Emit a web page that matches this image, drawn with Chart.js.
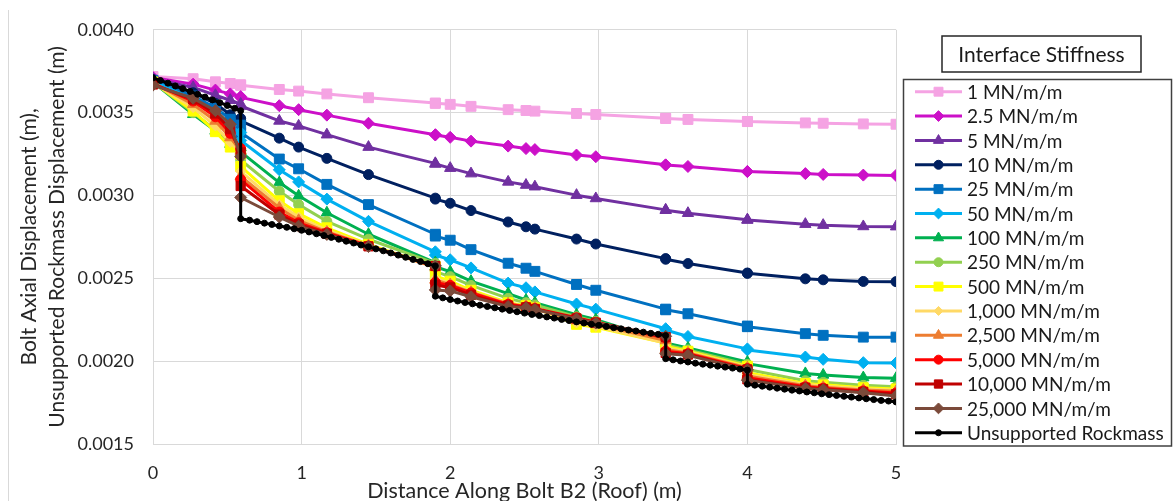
<!DOCTYPE html>
<html><head><meta charset="utf-8">
<script src="https://cdn.jsdelivr.net/npm/chart.js@4.4.1/dist/chart.umd.min.js"></script>
<style>html,body{margin:0;padding:0;background:#fff;}#wrap{width:1175px;height:501px;position:relative;}</style>
</head><body><div id="wrap"><canvas id="c"></canvas></div>
<script>
const xNodes = [0, 0.27, 0.42, 0.52, 0.59, 0.59, 0.85, 0.98, 1.17, 1.45, 1.9, 1.9, 2.0, 2.14, 2.39, 2.51, 2.57, 2.85, 2.98, 3.45, 3.45, 3.6, 4.0, 4.0, 4.39, 4.51, 4.78, 5.0];
const seriesNames = ['1 MN/m/m','2.5 MN/m/m','5 MN/m/m','10 MN/m/m','25 MN/m/m','50 MN/m/m','100 MN/m/m','250 MN/m/m','500 MN/m/m','1,000 MN/m/m','2,500 MN/m/m','5,000 MN/m/m','10,000 MN/m/m','25,000 MN/m/m','Unsupported Rockmass'];
const k1 = [0.003718,0.003705,0.003686,0.003676,0.003668,0.003665,0.003640,0.003630,0.003613,0.003590,0.003558,0.003556,0.003550,0.003538,0.003518,0.003513,0.003509,0.003495,0.003489,0.003466,0.003465,0.003459,0.003447,0.003446,0.003438,0.003436,0.003432,0.003430];
const k2_5 = [0.003712,0.003672,0.003636,0.003613,0.003597,0.003592,0.003542,0.003518,0.003485,0.003436,0.003367,0.003365,0.003351,0.003328,0.003298,0.003283,0.003277,0.003244,0.003234,0.003185,0.003184,0.003175,0.003145,0.003144,0.003132,0.003127,0.003123,0.003121];
const k5 = [0.003705,0.003652,0.003605,0.003575,0.003552,0.003540,0.003450,0.003420,0.003367,0.003292,0.003194,0.003190,0.003165,0.003132,0.003082,0.003063,0.003053,0.003002,0.002982,0.002913,0.002911,0.002893,0.002854,0.002852,0.002827,0.002821,0.002813,0.002812];
const k10 = [0.003700,0.003620,0.003555,0.003487,0.003465,0.003450,0.003346,0.003292,0.003224,0.003126,0.002984,0.002978,0.002953,0.002909,0.002840,0.002811,0.002797,0.002737,0.002707,0.002619,0.002615,0.002589,0.002532,0.002530,0.002497,0.002491,0.002481,0.002480];
const k25 = [0.003695,0.003600,0.003530,0.003460,0.003425,0.003380,0.003220,0.003161,0.003067,0.002945,0.002766,0.002755,0.002730,0.002673,0.002591,0.002561,0.002542,0.002463,0.002428,0.002314,0.002310,0.002286,0.002212,0.002208,0.002166,0.002156,0.002145,0.002145];
const k50 = [0.003690,0.003580,0.003500,0.003420,0.003380,0.003332,0.003155,0.003082,0.002978,0.002844,0.002660,0.002640,0.002612,0.002563,0.002471,0.002443,0.002418,0.002345,0.002314,0.002196,0.002188,0.002149,0.002074,0.002068,0.002025,0.002011,0.001991,0.001989];
const k100 = [0.003685,0.003490,0.003390,0.003310,0.003290,0.003263,0.003078,0.002998,0.002896,0.002766,0.002595,0.002570,0.002540,0.002483,0.002408,0.002369,0.002353,0.002280,0.002251,0.002117,0.002110,0.002080,0.001995,0.001985,0.001926,0.001917,0.001901,0.001897];
const k250 = [0.003685,0.003500,0.003395,0.003305,0.003275,0.003214,0.003025,0.002945,0.002844,0.002736,0.002590,0.002540,0.002510,0.002457,0.002379,0.002353,0.002339,0.002268,0.002240,0.002120,0.002100,0.002068,0.001980,0.001950,0.001882,0.001872,0.001854,0.001845];
const k500 = [0.003685,0.003510,0.003385,0.003292,0.003250,0.003175,0.002968,0.002890,0.002805,0.002705,0.002570,0.002515,0.002483,0.002428,0.002353,0.002335,0.002322,0.002222,0.002205,0.002110,0.002090,0.002060,0.001970,0.001930,0.001865,0.001857,0.001840,0.001832];
const k1000 = [0.003680,0.003530,0.003420,0.003320,0.003260,0.003145,0.002945,0.002870,0.002790,0.002700,0.002565,0.002500,0.002470,0.002420,0.002348,0.002330,0.002318,0.002230,0.002210,0.002110,0.002080,0.002055,0.001965,0.001920,0.001860,0.001850,0.001833,0.001825];
const k2500 = [0.003680,0.003550,0.003450,0.003350,0.003270,0.003116,0.002925,0.002850,0.002780,0.002698,0.002568,0.002490,0.002462,0.002416,0.002346,0.002330,0.002320,0.002245,0.002222,0.002125,0.002070,0.002050,0.001960,0.001910,0.001852,0.001843,0.001826,0.001818];
const k5000 = [0.003675,0.003570,0.003475,0.003375,0.003283,0.003096,0.002900,0.002835,0.002775,0.002695,0.002572,0.002475,0.002457,0.002412,0.002343,0.002328,0.002318,0.002262,0.002235,0.002140,0.002060,0.002045,0.001955,0.001900,0.001845,0.001837,0.001820,0.001808];
const k10000 = [0.003670,0.003580,0.003495,0.003400,0.003260,0.003057,0.002885,0.002825,0.002770,0.002693,0.002574,0.002460,0.002445,0.002400,0.002336,0.002325,0.002315,0.002258,0.002232,0.002145,0.002050,0.002040,0.001950,0.001890,0.001840,0.001832,0.001815,0.001800];
const k25000 = [0.003666,0.003587,0.003512,0.003430,0.003234,0.002988,0.002870,0.002815,0.002765,0.002692,0.002575,0.002430,0.002424,0.002389,0.002330,0.002322,0.002312,0.002255,0.002230,0.002150,0.002045,0.002035,0.001948,0.001885,0.001835,0.001828,0.001810,0.001790];
const rockX = [0,0.05,0.1,0.15,0.2,0.25,0.3,0.35,0.4,0.45,0.5,0.55,0.59,
 0.59,0.65,0.7,0.75,0.8,0.85,0.9,0.95,1,1.05,1.1,1.15,1.2,1.25,1.3,1.35,1.4,1.45,1.5,1.55,1.6,1.65,1.7,1.75,1.8,1.85,1.9,
 1.9,1.95,2,2.05,2.1,2.15,2.2,2.25,2.3,2.35,2.4,2.45,2.5,2.55,2.6,2.65,2.7,2.75,2.8,2.85,2.9,2.95,3,3.05,3.1,3.15,3.2,3.25,3.3,3.35,3.4,3.45,
 3.45,3.5,3.55,3.6,3.65,3.7,3.75,3.8,3.85,3.9,3.95,4,
 4,4.05,4.1,4.15,4.2,4.25,4.3,4.35,4.4,4.45,4.5,4.55,4.6,4.65,4.7,4.75,4.8,4.85,4.9,4.95,5];
const rockY = [0.003710,0.003694,0.003678,0.003661,0.003645,0.003628,0.003611,0.003594,0.003577,0.003560,0.003543,0.003526,0.003512,
 0.002860,0.002851,0.002842,0.002833,0.002825,0.002816,0.002808,0.002799,0.002790,0.002780,0.002769,0.002758,0.002747,0.002736,0.002724,0.002713,0.002701,0.002690,0.002678,0.002666,0.002653,0.002640,0.002627,0.002614,0.002601,0.002588,0.002575,
 0.002392,0.002382,0.002372,0.002363,0.002354,0.002346,0.002338,0.002330,0.002322,0.002314,0.002306,0.002298,0.002290,0.002282,0.002275,0.002267,0.002260,0.002252,0.002245,0.002237,0.002230,0.002223,0.002216,0.002209,0.002202,0.002195,0.002188,0.002182,0.002175,0.002168,0.002162,0.002155,
 0.002015,0.002008,0.002001,0.001995,0.001988,0.001982,0.001976,0.001970,0.001964,0.001958,0.001952,0.001946,
 0.001861,0.001855,0.001849,0.001843,0.001837,0.001831,0.001825,0.001820,0.001814,0.001809,0.001803,0.001798,0.001793,0.001788,0.001783,0.001778,0.001773,0.001768,0.001763,0.001759,0.001754];
const xTicks = [0, 1, 2, 3, 4, 5];
const yTicks = [0.0015, 0.0020, 0.0025, 0.0030, 0.0035, 0.0040];

const seriesValues = [k1,k2_5,k5,k10,k25,k50,k100,k250,k500,k1000,k2500,k5000,k10000,k25000];
const styles = [
 {c:'#F5A3E3', p:'rect', r:7},
 {c:'#CC10C8', p:'rectRot', r:6},
 {c:'#7030A0', p:'triangle', r:6.5},
 {c:'#002060', p:'circle', r:5},
 {c:'#0070C0', p:'rect', r:7},
 {c:'#00B0F0', p:'rectRot', r:6},
 {c:'#00B050', p:'triangle', r:6.5},
 {c:'#92D050', p:'circle', r:5},
 {c:'#FFFF00', p:'rect', r:7},
 {c:'#FFD966', p:'rectRot', r:5},
 {c:'#ED7D31', p:'triangle', r:6.5},
 {c:'#FF0000', p:'circle', r:5},
 {c:'#C00000', p:'rect', r:6.5},
 {c:'#7B4A3A', p:'rectRot', r:6},
 {c:'#000000', p:'circle', r:3}
];
const FONT = 'Lato';

const datasets = seriesValues.map((vals, i) => ({
  label: seriesNames[i],
  data: vals.map((v, j) => ({x: xNodes[j], y: v})),
  borderColor: styles[i].c, backgroundColor: styles[i].c,
  pointBackgroundColor: styles[i].c, pointBorderColor: styles[i].c,
  pointStyle: styles[i].p, pointRadius: styles[i].r, pointBorderWidth: 1,
  borderWidth: 3, tension: 0, order: 20 - i
}));
datasets.push({
  label: seriesNames[14],
  data: rockY.map((v, j) => ({x: rockX[j], y: v})),
  borderColor: '#000', backgroundColor: '#000', pointBackgroundColor: '#000', pointBorderColor: '#000',
  pointStyle: 'circle', pointRadius: 3, pointBorderWidth: 1, borderWidth: 3, tension: 0, order: 1
});

function marker(ctx, style, r, x, y) {
  ctx.beginPath();
  if (style === 'rect') { const s = r * Math.SQRT1_2; ctx.rect(x - s, y - s, 2 * s, 2 * s); }
  else if (style === 'rectRot') { ctx.moveTo(x - r, y); ctx.lineTo(x, y - r); ctx.lineTo(x + r, y); ctx.lineTo(x, y + r); ctx.closePath(); }
  else if (style === 'triangle') { for (let k = 0; k < 3; k++) { const a = k * 2 * Math.PI / 3; const px = x + Math.sin(a) * r, py = y - Math.cos(a) * r; k ? ctx.lineTo(px, py) : ctx.moveTo(px, py); } ctx.closePath(); }
  else { ctx.arc(x, y, r, 0, Math.PI * 2); }
  ctx.fill(); ctx.stroke();
}

const boxLegend = {
  id: 'boxLegend',
  beforeDraw(chart) {
    const ctx = chart.ctx;
    ctx.save();
    ctx.strokeStyle = '#d9d9d9'; ctx.lineWidth = 1;
    ctx.beginPath(); ctx.moveTo(8.5, 10); ctx.lineTo(8.5, 501); ctx.stroke();
    ctx.restore();
  },
  afterDraw(chart) {
    const ctx = chart.ctx;
    ctx.save();
    ctx.strokeStyle = '#262626'; ctx.lineWidth = 1.5;
    ctx.strokeRect(942, 36, 199, 36);
    ctx.fillStyle = '#1a1a1a'; ctx.font = '21px ' + FONT;
    ctx.textAlign = 'center'; ctx.textBaseline = 'middle';
    ctx.fillText('Interface Stiffness', 1041.5, 55);
    ctx.strokeStyle = '#404040'; ctx.lineWidth = 1.5;
    ctx.strokeRect(903.5, 79.5, 268, 366.5);
    ctx.textAlign = 'left';
    ctx.font = '19px ' + FONT;
    for (let i = 0; i < seriesNames.length; i++) {
      const y = 91.7 + i * 24.36;
      const st = styles[i];
      ctx.strokeStyle = st.c; ctx.fillStyle = st.c; ctx.lineWidth = 3;
      ctx.beginPath(); ctx.moveTo(915, y); ctx.lineTo(962, y); ctx.stroke();
      ctx.lineWidth = 1;
      marker(ctx, st.p, i === 14 ? 3 : st.r * 0.9, 938.5, y);
      ctx.fillStyle = '#1a1a1a';
      ctx.fillText(seriesNames[i], 967, y + 1);
    }
    ctx.restore();
  }
};

new Chart(document.getElementById('c'), {
  type: 'line',
  data: { datasets },
  plugins: [boxLegend],
  options: {
    responsive: true, maintainAspectRatio: false, animation: false,
    layout: { padding: { left: 0, right: 279, top: 20, bottom: 0 } },
    plugins: { legend: { display: false }, tooltip: { enabled: false } },
    elements: { line: { borderCapStyle: 'round', borderJoinStyle: 'round' } },
    scales: {
      x: {
        type: 'linear', min: 0, max: 5,
        afterBuildTicks: s => { s.ticks = xTicks.map(v => ({value: v})); },
        afterFit: s => { s.height = 57; },
        grid: { color: '#d9d9d9', lineWidth: 1, drawTicks: false },
        border: { color: '#d9d9d9', width: 1 },
        ticks: { padding: 18, color: '#262626', font: { family: FONT, size: 18 }, callback: v => String(v), maxRotation: 0 },
        title: { display: true, text: 'Distance Along Bolt B2 (Roof) (m)', color: '#262626', font: { family: FONT, size: 21.5, lineHeight: 1.1 }, padding: { top: 0, bottom: -2 } }
      },
      y: {
        type: 'linear', min: 0.0015, max: 0.0040,
        afterBuildTicks: s => { s.ticks = yTicks.map(v => ({value: v})); },
        afterFit: s => { s.width = 153; },
        grid: { color: '#d9d9d9', lineWidth: 1, drawTicks: false },
        border: { color: '#d9d9d9', width: 1 },
        ticks: { padding: 19, color: '#262626', font: { family: FONT, size: 18 }, callback: v => v.toFixed(4) },
        title: { display: true, text: ['Bolt Axial Displacement (m),', 'Unsupported Rockmass Displacement (m)'], color: '#262626', font: { family: FONT, size: 21, lineHeight: '28px' }, padding: { top: 15, bottom: 0 } }
      }
    }
  }
});
</script></body></html>
